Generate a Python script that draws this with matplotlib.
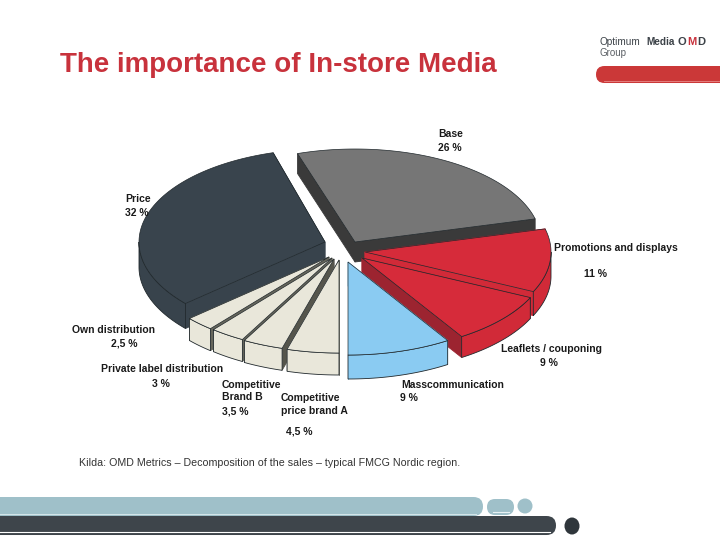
import numpy as np
import matplotlib
matplotlib.use('Agg')
import matplotlib.pyplot as plt
from matplotlib.patches import Polygon, FancyBboxPatch, Ellipse

plt.rcParams['font.family'] = ['Liberation Sans', 'DejaVu Sans']

# Data
names = ['Base', 'Promotions and displays', 'Leaflets / couponing', 'Masscommunication',
         'Competitive price brand A', 'Competitive Brand B', 'Private label distribution',
         'Own distribution', 'Price']
shares = [26, 11, 9, 9, 4.5, 3.5, 3, 2.5, 32]
share_labels = ['26 %', '11 %', '9 %', '9 %', '4,5 %', '3,5 %', '3 %', '2,5 %', '32 %']

# Look of the slices, same order as the data
tops = ['#767676', '#d62b3a', '#d62b3a', '#8acbf2', '#e9e7da', '#e9e7da', '#e9e7da', '#e9e7da', '#39444d']
rims = ['#767676', '#d12a38', '#d12a38', '#8acbf2', '#e9e7da', '#e9e7da', '#e9e7da', '#e9e7da', '#38434c']
cuts = ['#3a3a3a', '#d12a38', '#9c2430', '#8acbf2', '#77776c', '#55554c', '#66665c', '#66665c', '#38434c']
apex = [(355, 242), (365, 252), (362, 258), (348, 262), (339, 260), (334, 259), (332, 258), (329, 257), (325, 242)]
depth = [20, 24, 21, 24, 22, 22, 22, 22, 25]
# back slices go first
draw_order = [0, 8, 7, 6, 5, 4, 1, 2, 3]

a = 186
b = 93
start = 108

fig = plt.figure(figsize=[7.2, 5.4], dpi=100)
ax = fig.add_axes([0, 0, 1, 1])
ax.set_xlim(0, 720)
ax.set_ylim(540, 0)
ax.axis('off')

# Slice angles from the shares, clockwise
ends = start - np.cumsum(shares) * 3.6
begins = np.concatenate([[start], ends[:-1]])


def arc(i, t0, t1):
    t = np.radians(np.linspace(t0, t1, 80))
    return np.column_stack([apex[i][0] + a * np.cos(t), apex[i][1] - b * np.sin(t)])


def draw_slice(i):
    t0, t1 = begins[i], ends[i]
    d = depth[i]
    cx, cy = apex[i]
    # radial cut walls
    for t in (t0, t1):
        p = arc(i, t, t)[0]
        ax.add_patch(Polygon([(cx, cy), p, (p[0], p[1] + d), (cx, cy + d)],
                             fc=cuts[i], ec=cuts[i], lw=0.6, zorder=i_z[i]))
    # outer rim, only the part that faces us
    lo, hi = t1, t0
    for k in (-360, 0):
        r0 = max(lo, k - 180)
        r1 = min(hi, k)
        if r1 > r0:
            top = arc(i, r1, r0)
            ax.add_patch(Polygon(np.vstack([top, (top + [0, d])[::-1]]),
                                 fc=rims[i], ec='#20282c', lw=0.6, zorder=i_z[i]))
    # top face
    pts = np.vstack([[(cx, cy)], arc(i, t0, t1)])
    ax.add_patch(Polygon(pts, fc=tops[i], ec='#20282c', lw=0.5, zorder=i_z[i] + 0.5))


i_z = {}
for n, i in enumerate(draw_order):
    i_z[i] = n + 2
for i in draw_order:
    draw_slice(i)

# Slice labels
lab = dict(fontsize=7.5, fontweight='bold', color='#1a1a1a', va='center', zorder=30)
ax.text(451, 134, names[0], ha='center', **lab)
ax.text(450, 148, share_labels[0], ha='center', **lab)
ax.text(554, 248, names[1], ha='left', **lab)
ax.text(595, 274, share_labels[1], ha='center', **lab)
ax.text(501, 349, names[2], ha='left', **lab)
ax.text(549, 363, share_labels[2], ha='center', **lab)
ax.text(401, 385, names[3], ha='left', **lab)
ax.text(400, 398, share_labels[3], ha='left', **lab)
ax.text(281, 398, 'Competitive', ha='left', **lab)
ax.text(281, 411, 'price brand A', ha='left', **lab)
ax.text(299, 431, share_labels[4], ha='center', **lab)
ax.text(222, 385, 'Competitive', ha='left', **lab)
ax.text(222, 397, names[5].split()[1] + ' ' + names[5].split()[2], ha='left', **lab)
ax.text(222, 411, share_labels[5], ha='left', **lab)
ax.text(162, 369, names[6], ha='center', **lab)
ax.text(161, 384, share_labels[6], ha='center', **lab)
ax.text(114, 330, names[7], ha='center', **lab)
ax.text(124, 343, share_labels[7], ha='center', **lab)
ax.text(125, 199, names[8], ha='left', **lab)
ax.text(125, 213, share_labels[8], ha='left', **lab)

# Title and source line
ax.text(60, 65, 'The importance of In-store Media', fontsize=20, fontweight='bold',
        color='#c8323c', ha='left', va='center', zorder=30)
ax.text(79, 463, 'Kilda: OMD Metrics \u2013 Decomposition of the sales \u2013 typical FMCG Nordic region.',
        fontsize=7.7, color='#333333', ha='left', va='center', zorder=30)

# Logo
ax.text(600, 42, 'Optimum', fontsize=7.2, color='#3c4248', ha='left', va='center')
ax.text(646, 42, 'Media', fontsize=7.2, fontweight='bold', color='#3c4248', ha='left', va='center')
ax.text(682, 42, 'O', fontsize=8, fontweight='bold', color='#3c4248', ha='center', va='center')
ax.text(692, 42, 'M', fontsize=8, fontweight='bold', color='#c8323c', ha='center', va='center')
ax.text(701, 42, 'D', fontsize=8, fontweight='bold', color='#3c4248', ha='center', va='center')
ax.text(600, 53, 'Group', fontsize=7, color='#5a5f64', ha='left', va='center')


def pill(x0, y0, x1, y1, color):
    r = (y1 - y0) / 2
    ax.add_patch(FancyBboxPatch((x0 + r, y0 + r), x1 - x0 - 2 * r, 0.01,
                                boxstyle='round,pad=%f,rounding_size=%f' % (r, r),
                                fc=color, ec='none', zorder=1))


# Red bar under the logo
pill(596, 66, 760, 83, '#cb3838')
ax.plot([604, 720], [81, 81], color='#e88a8a', lw=0.6, zorder=1.5)

# Footer bars
pill(-20, 497, 483, 516, '#9fc0c9')
ax.plot([0, 476], [513.5, 513.5], color='#d5e6ea', lw=0.7, zorder=1.5)
pill(487, 499, 514, 515, '#9fc0c9')
ax.plot([493, 509], [512, 512], color='#e8f2f4', lw=0.8, zorder=1.5)
ax.add_patch(Ellipse((525, 506), 15, 15, fc='#9fc0c9', ec='none', zorder=1))
pill(-20, 516, 556, 535, '#3e454b')
ax.plot([0, 550], [532, 532], color='white', lw=0.8, zorder=1.5)
ax.add_patch(Ellipse((572, 526), 15, 17, fc='#2f363b', ec='none', zorder=1))

plt.savefig('out.png', dpi=100)
